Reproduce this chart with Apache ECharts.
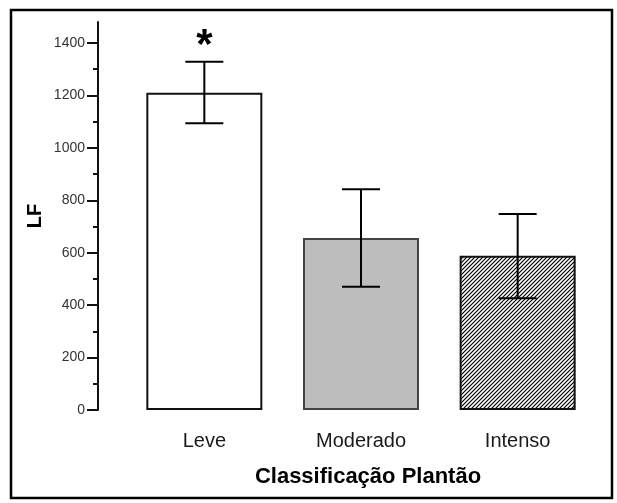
<!DOCTYPE html>
<html>
<head>
<meta charset="utf-8">
<script src="https://cdn.jsdelivr.net/npm/echarts@6/dist/echarts.min.js"></script>
<style>
html,body{margin:0;padding:0;background:#fff;}
#c{width:617px;height:503px;}
</style>
</head>
<body>
<div id="c"></div>
<script>
const categories = ['Leve', 'Moderado', 'Intenso'];
const means = [1210, 656, 588];
const errLow = [1094, 470, 426];
const errHigh = [1328, 842, 748];
const marks = ['*', '', ''];
const yLabelValues = [0, 200, 400, 600, 800, 1000, 1200, 1400];
const yMinorTicks = [100, 300, 500, 700, 900, 1100, 1300];
const yAxisName = 'LF';
const xAxisName = 'Classificação Plantão';

const FONT = "'Liberation Sans', Arial, sans-serif";

function hatch() {
  const s = 4;
  const cv = document.createElement('canvas');
  cv.width = s; cv.height = s;
  const ctx = cv.getContext('2d');
  ctx.fillStyle = '#fff';
  ctx.fillRect(0, 0, s, s);
  ctx.strokeStyle = '#000';
  ctx.lineWidth = 1.2;
  ctx.beginPath();
  ctx.moveTo(-1, s + 1); ctx.lineTo(s + 1, -1);
  ctx.moveTo(-1, 1); ctx.lineTo(1, -1);
  ctx.moveTo(s - 1, s + 1); ctx.lineTo(s + 1, s - 1);
  ctx.stroke();
  return cv;
}

const barStyles = [
  { color: '#ffffff', borderColor: '#111', borderWidth: 2 },
  { color: '#bdbdbd', borderColor: '#444', borderWidth: 2 },
  { color: { image: hatch(), repeat: 'repeat' }, borderColor: '#111', borderWidth: 2 }
];

const chart = echarts.init(document.getElementById('c'), null, { renderer: 'canvas' });

chart.setOption({
  animation: false,
  backgroundColor: '#fff',
  textStyle: { fontFamily: FONT },
  graphic: [{
    type: 'rect',
    shape: { x: 11, y: 10, width: 601, height: 488 },
    style: { fill: 'none', stroke: '#000', lineWidth: 2.5 },
    z: 100
  }],
  grid: { left: 126, width: 470, top: 22, bottom: 93 },
  xAxis: {
    type: 'category',
    data: categories,
    axisLine: { show: false },
    axisTick: { show: false },
    axisLabel: { fontSize: 20, color: '#1a1a1a', margin: 21, fontFamily: FONT },
    name: xAxisName,
    nameLocation: 'middle',
    nameGap: 56,
    nameMoveOverlap: false,
    nameTextStyle: { fontSize: 22, fontWeight: 'bold', color: '#000', fontFamily: FONT, padding: [0, 0, 0, 14] }
  },
  yAxis: [{
    type: 'value',
    min: 0, max: 1480,
    position: 'left',
    offset: 28,
    splitLine: { show: false },
    axisLine: { show: true, lineStyle: { color: '#111', width: 2 } },
    axisTick: { show: true, length: 11, customValues: yLabelValues, lineStyle: { color: '#111', width: 2 } },
    axisLabel: { customValues: yLabelValues, formatter: function (v) { return String(v); }, fontSize: 14, color: '#333', margin: 13, fontFamily: FONT },
    name: yAxisName,
    nameLocation: 'middle',
    nameGap: 53,
    nameMoveOverlap: false,
    nameTextStyle: { fontSize: 20, fontWeight: 'bold', color: '#000', fontFamily: FONT }
  }, {
    type: 'value',
    min: 0, max: 1480,
    position: 'left',
    offset: 28,
    splitLine: { show: false },
    axisLine: { show: false },
    axisTick: { show: true, length: 5, customValues: yMinorTicks, lineStyle: { color: '#111', width: 2 } },
    axisLabel: { show: false }
  }],
  series: [{
    type: 'bar',
    barWidth: 116,
    data: means.map((v, i) => ({ value: v, itemStyle: barStyles[i] })),
    z: 2
  }, {
    type: 'custom',
    z: 5,
    data: categories.map((c, i) => [i, errLow[i], errHigh[i]]),
    renderItem: function (params, api) {
      const i = api.value(0);
      const lo = api.coord([i, api.value(1)]);
      const hi = api.coord([i, api.value(2)]);
      const half = 19;
      const st = { stroke: '#000', lineWidth: 2 };
      const children = [
        { type: 'line', shape: { x1: hi[0], y1: hi[1], x2: lo[0], y2: lo[1] }, style: st },
        { type: 'line', shape: { x1: hi[0] - half, y1: hi[1], x2: hi[0] + half, y2: hi[1] }, style: st },
        { type: 'line', shape: { x1: lo[0] - half, y1: lo[1], x2: lo[0] + half, y2: lo[1] }, style: st }
      ];
      const m = marks[params.dataIndex];
      if (m) {
        children.push({
          type: 'text',
          style: {
            text: m, x: hi[0], y: hi[1] - 15,
            align: 'center', verticalAlign: 'middle',
            fontSize: 42, fontWeight: 'bold', fontFamily: FONT, fill: '#000'
          }
        });
      }
      return { type: 'group', children: children };
    }
  }]
});
</script>
</body>
</html>
